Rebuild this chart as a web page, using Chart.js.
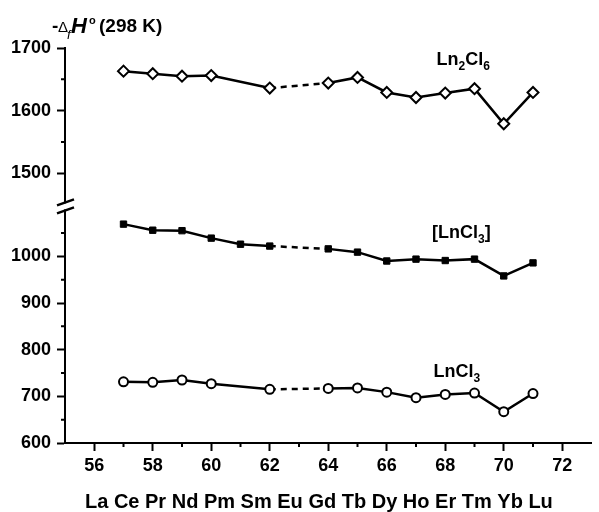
<!DOCTYPE html>
<html>
<head>
<meta charset="utf-8">
<script src="https://cdn.jsdelivr.net/npm/chart.js@4"></script>
<style>
  html, body { margin: 0; padding: 0; background: #fff; }
  #wrap { width: 599px; height: 512px; position: relative; }
</style>
</head>
<body>
<div id="wrap"><canvas id="enthalpyChart"></canvas></div>
<script>
// atomic numbers (Pm = 61 only measured for [LnCl3], Eu = 63 missing)
const zOpen = [57, 58, 59, 60, 62, 64, 65, 66, 67, 68, 69, 70, 71];
const zSquare = [57, 58, 59, 60, 61, 62, 64, 65, 66, 67, 68, 69, 70, 71];
const zMissing = 63;

// -dH (298 K), kJ/mol
const ln2cl6Values = [1663, 1659, 1655, 1656, 1636, 1644, 1653, 1629, 1621, 1628, 1635, 1579, 1629];
const lncl3DimerValues = [1069, 1056, 1055, 1039, 1026, 1022, 1016, 1009, 990, 994, 991, 994, 958, 986];
const lncl3Values = [731, 730, 735, 727, 715, 717, 718, 709, 697, 704, 707, 667, 706];

const xTicks = [56, 58, 60, 62, 64, 66, 68, 70, 72];
const xMinorTicks = [57, 59, 61, 63, 65, 67, 69, 71];
const upperTicks = [1500, 1600, 1700];
const upperMinorTicks = [1550, 1650];
const lowerTicks = [600, 700, 800, 900, 1000];
const lowerMinorTicks = [650, 750, 850, 950, 1050];
const elementSymbols = 'La Ce Pr Nd Pm Sm Eu Gd Tb Dy Ho Er Tm Yb Lu';

const FONT = '"Liberation Sans", Arial, sans-serif';

const toPoints = (xs, ys) => xs.map((x, i) => ({ x: x, y: ys[i] }));

// dashed line across the Eu gap
const gapDash = ctx => (ctx.p0.parsed.x < zMissing && ctx.p1.parsed.x > zMissing ? [6, 5] : undefined);

function setTicks(values) {
    return scale => { scale.ticks = values.map(v => ({ value: v })); };
}

function drawRich(ctx, x, y, parts) {
    // parts: [text, font, dy]
    ctx.textAlign = 'left';
    ctx.textBaseline = 'alphabetic';
    parts.forEach(p => {
        ctx.font = p[1];
        ctx.fillText(p[0], x, y + (p[2] || 0));
        x += ctx.measureText(p[0]).width;
    });
}

const decorations = {
    id: 'decorations',
    afterDraw(chart) {
        const ctx = chart.ctx;
        const xs = chart.scales.x, yh = chart.scales.yHigh, yl = chart.scales.yLow;
        const left = chart.chartArea.left, bottom = chart.chartArea.bottom;
        ctx.save();
        ctx.strokeStyle = '#000';
        ctx.fillStyle = '#000';
        ctx.lineWidth = 2;

        // minor ticks
        ctx.beginPath();
        xMinorTicks.forEach(v => {
            const px = xs.getPixelForValue(v);
            ctx.moveTo(px, bottom); ctx.lineTo(px, bottom + 4);
        });
        upperMinorTicks.forEach(v => {
            const py = yh.getPixelForValue(v);
            ctx.moveTo(left, py); ctx.lineTo(left - 4, py);
        });
        lowerMinorTicks.forEach(v => {
            const py = yl.getPixelForValue(v);
            ctx.moveTo(left, py); ctx.lineTo(left - 4, py);
        });
        ctx.stroke();

        // axis break
        const yb = yl.top;
        ctx.fillStyle = '#fff';
        ctx.fillRect(left - 3, yb - 3, 6, 6);
        ctx.beginPath();
        ctx.lineWidth = 2.5;
        ctx.moveTo(left - 8, yb - 1); ctx.lineTo(left + 9, yb - 7);
        ctx.moveTo(left - 8, yb + 7); ctx.lineTo(left + 9, yb + 1);
        ctx.stroke();

        ctx.fillStyle = '#000';
        ctx.textAlign = 'left';
        ctx.textBaseline = 'alphabetic';
        // y title: -ΔfH°(298 K)
        ctx.font = 'bold 19px ' + FONT;
        ctx.fillText('-', 52, 32);
        ctx.font = '15px ' + FONT;
        ctx.fillText('\u0394', 58, 32);
        ctx.font = 'italic 13px ' + FONT;
        ctx.fillText('f', 67, 39);
        ctx.font = 'italic bold 22px ' + FONT;
        ctx.fillText('H', 71, 33);
        ctx.font = 'bold 11px ' + FONT;
        ctx.fillText('o', 89, 24);
        ctx.font = 'bold 19px ' + FONT;
        ctx.fillText('(298 K)', 99, 32);

        // series labels
        drawRich(ctx, xs.getPixelForValue(67.7), yh.getPixelForValue(1673), [
            ['Ln', 'bold 18px ' + FONT, 0],
            ['2', 'bold 12px ' + FONT, 5],
            ['Cl', 'bold 18px ' + FONT, 0],
            ['6', 'bold 12px ' + FONT, 5]
        ]);
        drawRich(ctx, xs.getPixelForValue(67.55), yl.getPixelForValue(1040), [
            ['[LnCl', 'bold 18px ' + FONT, 0],
            ['3', 'bold 12px ' + FONT, 5],
            [']', 'bold 18px ' + FONT, 0]
        ]);
        drawRich(ctx, xs.getPixelForValue(67.6), yl.getPixelForValue(741), [
            ['LnCl', 'bold 18px ' + FONT, 0],
            ['3', 'bold 12px ' + FONT, 5]
        ]);

        // element symbols under the atomic numbers
        ctx.font = 'bold 20px ' + FONT;
        ctx.fillText(elementSymbols, 85, 508);
        ctx.restore();
    }
};

const yAxisCommon = {
    type: 'linear',
    position: 'left',
    stack: 'y',
    afterFit: scale => { scale.width = 65; },
    grid: { drawOnChartArea: false, tickLength: 8, tickWidth: 2, tickColor: '#000' },
    border: { color: '#000', width: 2 },
    ticks: {
        color: '#000',
        padding: 6,
        font: { family: FONT, size: 18, weight: 'bold' },
        callback: v => String(v)
    }
};

new Chart(document.getElementById('enthalpyChart'), {
    type: 'line',
    data: {
        datasets: [{
            label: 'Ln2Cl6',
            data: toPoints(zOpen, ln2cl6Values),
            yAxisID: 'yHigh',
            borderColor: '#000',
            borderWidth: 2.5,
            pointStyle: 'rectRot',
            pointRadius: 5.5,
            pointBorderWidth: 2,
            pointBackgroundColor: '#fff',
            pointBorderColor: '#000',
            segment: { borderDash: gapDash }
        }, {
            label: '[LnCl3]',
            data: toPoints(zSquare, lncl3DimerValues),
            yAxisID: 'yLow',
            borderColor: '#000',
            borderWidth: 2.5,
            pointStyle: 'rect',
            pointRadius: 4.5,
            pointBorderWidth: 1,
            pointBackgroundColor: '#000',
            pointBorderColor: '#000',
            segment: { borderDash: gapDash }
        }, {
            label: 'LnCl3',
            data: toPoints(zOpen, lncl3Values),
            yAxisID: 'yLow',
            borderColor: '#000',
            borderWidth: 2.5,
            pointStyle: 'circle',
            pointRadius: 4.5,
            pointBorderWidth: 2,
            pointBackgroundColor: '#fff',
            pointBorderColor: '#000',
            segment: { borderDash: gapDash }
        }]
    },
    options: {
        responsive: true,
        maintainAspectRatio: false,
        animation: false,
        layout: { padding: { top: 48, left: 0, right: 0, bottom: 0 } },
        plugins: { legend: { display: false }, tooltip: { enabled: false } },
        elements: { line: { tension: 0 } },
        scales: {
            x: {
                type: 'linear',
                min: 55,
                max: 73,
                afterBuildTicks: setTicks(xTicks),
                afterFit: scale => { scale.height = 69; },
                grid: { drawOnChartArea: false, tickLength: 8, tickWidth: 2, tickColor: '#000' },
                border: { color: '#000', width: 2 },
                ticks: { color: '#000', padding: 4, maxRotation: 0, font: { family: FONT, size: 18, weight: 'bold' } }
            },
            // stacked axes are placed bottom-up in definition order
            yLow: Object.assign({}, yAxisCommon, {
                min: 600,
                max: 1107,
                stackWeight: 236,
                afterBuildTicks: setTicks(lowerTicks)
            }),
            yHigh: Object.assign({}, yAxisCommon, {
                min: 1447,
                max: 1700,
                stackWeight: 158,
                afterBuildTicks: setTicks(upperTicks)
            })
        }
    },
    plugins: [decorations]
});
</script>
</body>
</html>
